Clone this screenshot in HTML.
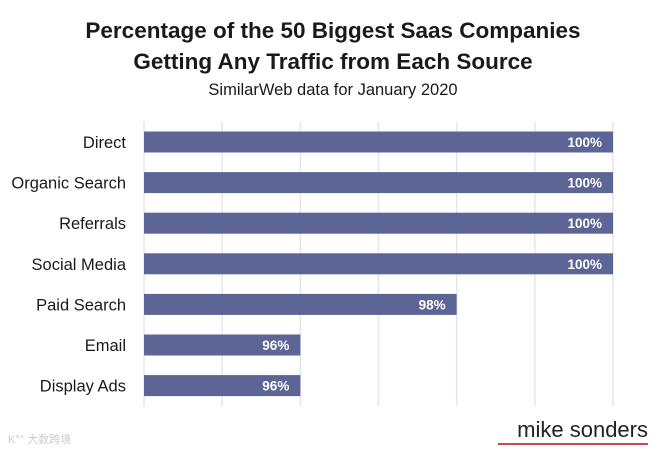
<!DOCTYPE html>
<html><head><meta charset="utf-8"><style>
body{margin:0;background:#fff;font-family:"Liberation Sans",sans-serif;}
#wrap{position:relative;width:665px;height:453px;overflow:hidden;}
</style></head><body>
<div id="wrap">
<svg id="chart" width="665" height="453">
<text x="333" y="38" text-anchor="middle" font-size="22.5" font-weight="bold" fill="#1a1a1a">Percentage of the 50 Biggest Saas Companies</text>
<text x="333" y="69" text-anchor="middle" font-size="22.5" font-weight="bold" fill="#1a1a1a">Getting Any Traffic from Each Source</text>
<text x="333" y="95" text-anchor="middle" font-size="16.5" fill="#1a1a1a">SimilarWeb data for January 2020</text>
<g id="grid"></g><g id="bars"></g>
<text x="648" y="437" text-anchor="end" font-size="22" fill="#222">mike sonders</text>
<rect x="498" y="443" width="150" height="2" fill="#c8484f"/>
<text x="8" y="443" font-size="11" fill="#ccc" font-family="Liberation Sans, Noto Sans CJK SC, sans-serif">K°° 大数跨境</text>
</svg>
</div>
<script>
const categories=["Direct","Organic Search","Referrals","Social Media","Paid Search","Email","Display Ads"];
const values=[100,100,100,100,98,96,96];
const ticks=[94,95,96,97,98,99,100];
const ns="http://www.w3.org/2000/svg";
const xMin=94,xMax=100,x0=144,x1=613;
const xs=v=>x0+(v-xMin)/(xMax-xMin)*(x1-x0);
const yTop=122,step=40.6,bh=21;
const yc=i=>142+i*step;
const grid=document.getElementById('grid'),bars=document.getElementById('bars');
function mk(t,a){const e=document.createElementNS(ns,t);for(const k in a)e.setAttribute(k,a[k]);return e;}
ticks.forEach(t=>{
 const l=mk('line',{x1:xs(t),x2:xs(t),y1:yTop,y2:406,stroke:'#e3e6ee','stroke-width':1.5});
 
 
 grid.appendChild(l);
});
categories.forEach((c,i)=>{
 const y=yc(i);
 const r=mk('rect',{x:x0,y:y-bh/2,width:xs(values[i])-x0,height:bh,fill:'#5c6596'});
 
 
 bars.appendChild(r);
 const lb=mk('text',{x:126,y:y+6,'text-anchor':'end','font-size':16.5,fill:'#1a1a1a'});
 lb.textContent=c;
 
 
 bars.appendChild(lb);
 const vl=mk('text',{x:xs(values[i])-11,y:y+5,'text-anchor':'end','font-size':13.5,'font-weight':'bold',fill:'#fff'});
 vl.textContent=values[i]+'%';
 
 
 bars.appendChild(vl);
});
</script>
</body></html>
